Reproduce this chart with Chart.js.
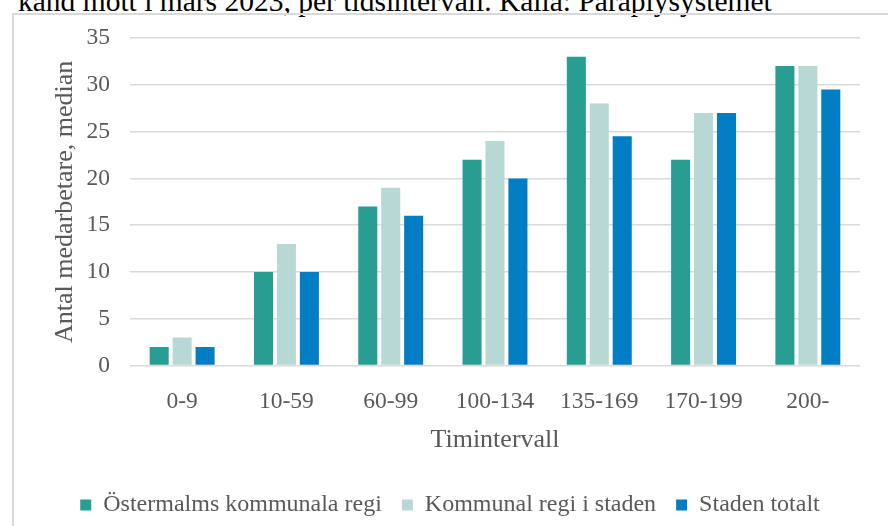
<!DOCTYPE html>
<html>
<head>
<meta charset="utf-8">
<script src="https://cdn.jsdelivr.net/npm/chart.js@4.4.0/dist/chart.umd.min.js"></script>
<style>
  body { margin: 0; background: #fff; overflow: hidden; }
  .caption { position: absolute; left: 18px; top: -14px; font-family: "Liberation Serif", serif; font-size: 29.5px; line-height: 30px; color: #000; white-space: nowrap; }
  .frame { position: absolute; left: 12px; top: 13px; width: 920px; height: 600px; border: 2px solid #d9d9d9; }
  .wrap { position: absolute; left: 0; top: 0; width: 888px; height: 527px; }
</style>
</head>
<body>
<div class="caption">känd mott i mars 2023, per tidsintervall. Källa: Paraplysystemet</div>
<div class="frame"></div>
<div class="wrap"><canvas id="chart"></canvas></div>
<script>
var categories = ["0-9", "10-59", "60-99", "100-134", "135-169", "170-199", "200-"];
var ostermalm = [2, 10, 17, 22, 33, 22, 32];
var kommunal = [3, 13, 19, 24, 28, 27, 32];
var stadenTotalt = [2, 10, 16, 20, 24.5, 27, 29.5];
var yTicks = [0, 5, 10, 15, 20, 25, 30, 35];

var serif = "'Liberation Serif', 'Times New Roman', serif";
var gray = "#595959";

Chart.defaults.font.family = serif;
Chart.defaults.color = gray;

var ctx = document.getElementById("chart");
var chart = new Chart(ctx, {
  type: "bar",
  data: {
    labels: categories,
    datasets: [
      { label: "Östermalms kommunala regi", data: ostermalm, backgroundColor: "#289d92" },
      { label: "Kommunal regi i staden", data: kommunal, backgroundColor: "#b8d8d6" },
      { label: "Staden totalt", data: stadenTotalt, backgroundColor: "#007dc3" }
    ]
  },
  options: {
    responsive: true,
    maintainAspectRatio: false,
    animation: false,
    categoryPercentage: 0.66,
    barPercentage: 0.83,
    layout: { padding: { left: 40, right: 28, top: 38, bottom: 0 } },
    plugins: {
      tooltip: { enabled: false },
      legend: {
        position: "bottom",
        labels: {
          boxWidth: 11,
          boxHeight: 11,
          padding: 20,
          font: { size: 24 },
          color: gray
        }
      }
    },
    scales: {
      x: {
        grid: { display: false },
        border: { display: false },
        ticks: { padding: 14, font: { size: 23.5 }, color: gray, maxRotation: 0 },
        title: { display: true, text: "Timintervall", font: { size: 26 }, color: gray, padding: { top: -5, bottom: 17 } }
      },
      y: {
        min: 0,
        max: 35,
        afterBuildTicks: function(scale) {
          scale.ticks = yTicks.map(function(v) { return { value: v }; });
        },
        afterFit: function(scale) { scale.width = 90; },
        grid: { color: "#d9d9d9", lineWidth: 1.5, drawTicks: false },
        border: { display: false },
        ticks: { padding: 20, font: { size: 23.5 }, color: gray },
        title: { display: true, text: "Antal medarbetare, median", font: { size: 26 }, color: gray, padding: { top: 10, bottom: 0 } }
      }
    }
  }
});
</script>
</body>
</html>
